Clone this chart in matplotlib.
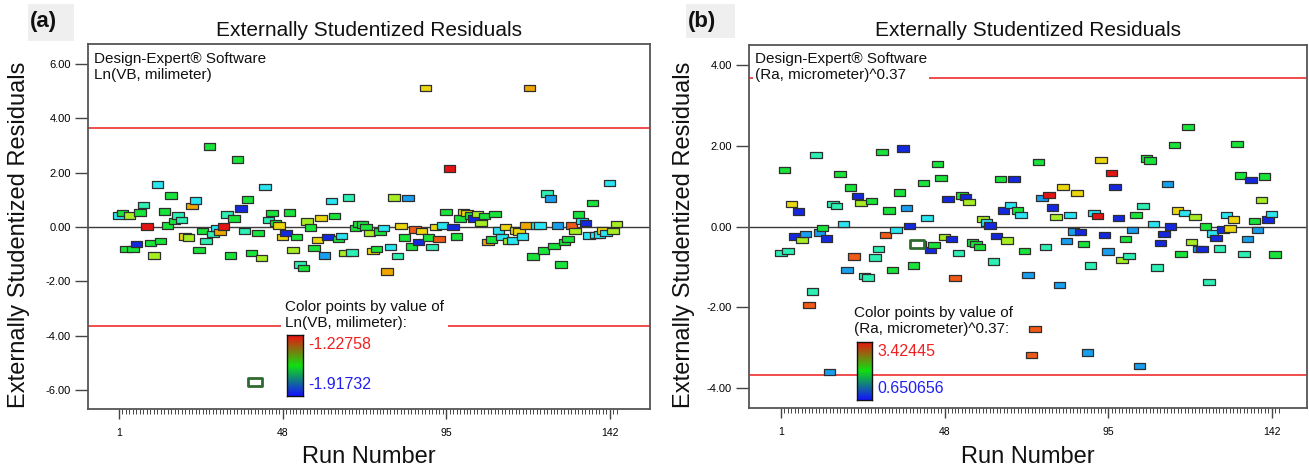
import numpy as np
import matplotlib
matplotlib.use('Agg')
import matplotlib.pyplot as plt
from matplotlib.colors import LinearSegmentedColormap
from matplotlib.patches import Rectangle
from matplotlib.path import Path

plt.rcParams['font.family'] = ['Liberation Sans', 'DejaVu Sans']

W, H = 1309, 469

# ---------------- data ----------------
# colour classes of the points, low response -> high response
colour_levels = {'B': 0.0, 'BC': 0.15, 'C': 0.3, 'T': 0.4, 'G': 0.5, 'YG': 0.62,
                 'Y': 0.72, 'O': 0.82, 'RO': 0.91, 'R': 1.0, 'W': 0.5}

# Panel (a): Ln(VB, milimeter)
resid_a = [0.43, 0.52, -0.80, 0.43, -0.80, -0.62, 0.53, 0.81, 0.02, -0.58,
           -1.05, 1.56, -0.52, 0.57, 0.06, 1.16, 0.22, 0.42, 0.27, -0.35,
           -0.38, 0.77, 0.98, -0.84, -0.14, -0.51, 2.96, -0.26, -0.04, -0.19,
           0.02, 0.46, -1.05, 0.31, 2.49, 0.68, -0.14, 1.02, -0.96, -5.72,
           -0.21, -1.14, 1.48, 0.25, 0.52, 0.15, 0.06, -0.37, -0.22, 0.53,
           -0.84, -0.37, -1.38, -1.51, 0.21, -0.02, -0.77, -0.47, 0.33, -1.05,
           -0.37, 0.96, 0.40, -0.44, -0.32, -0.96, 1.09, -0.93, -0.04, 0.12,
           0.09, 0.00, -0.21, -0.89, -0.80, -0.16, -0.04, -1.64, -0.74, 1.09,
           -1.06, 0.04, -0.38, 1.06, -0.72, -0.09, -0.54, -0.14, 5.12, -0.38,
           -0.73, 0.00, -0.43, 0.05, 0.56, 2.16, 0.00, -0.35, 0.31, 0.56,
           0.52, 0.43, 0.31, 0.49, 0.15, 0.40, -0.56, -0.46, 0.49, -0.12,
           -0.37, 0.00, -0.52, -0.49, -0.12, -0.16, -0.35, 0.06, 5.12, -1.09,
           0.05, 0.05, -0.86, 1.23, 1.05, -0.69, 0.05, -1.38, -0.56, -0.43,
           0.05, -0.15, 0.46, 0.22, 0.15, -0.31, 0.89, -0.30, -0.27, -0.12,
           -0.22, 1.63, -0.15, 0.12]
colour_a = ['C', 'G', 'G', 'YG', 'G', 'B', 'G', 'T', 'R', 'G',
            'YG', 'C', 'G', 'G', 'G', 'G', 'G', 'T', 'T', 'Y',
            'YG', 'O', 'C', 'G', 'G', 'T', 'G', 'T', 'C', 'O',
            'R', 'T', 'G', 'G', 'G', 'B', 'T', 'G', 'G', 'W',
            'G', 'YG', 'C', 'T', 'G', 'G', 'Y', 'Y', 'B', 'G',
            'YG', 'G', 'T', 'G', 'YG', 'G', 'G', 'Y', 'Y', 'BC',
            'B', 'C', 'G', 'G', 'C', 'YG', 'T', 'T', 'G', 'G',
            'G', 'G', 'YG', 'Y', 'G', 'G', 'C', 'O', 'C', 'YG',
            'T', 'Y', 'G', 'BC', 'G', 'RO', 'B', 'Y', 'Y', 'G',
            'T', 'Y', 'RO', 'C', 'G', 'R', 'B', 'G', 'G', 'Y',
            'Y', 'G', 'B', 'YG', 'YG', 'G', 'O', 'G', 'G', 'C',
            'C', 'Y', 'YG', 'C', 'Y', 'Y', 'C', 'O', 'O', 'G',
            'C', 'C', 'G', 'T', 'BC', 'G', 'BC', 'G', 'G', 'G',
            'RO', 'YG', 'G', 'C', 'B', 'C', 'G', 'C', 'C', 'Y',
            'C', 'C', 'YG', 'YG']
limit_a = 3.66
resp_a = ('-1.22758', '-1.91732')

# Panel (b): (Ra, micrometer)^0.37
resid_b = [-0.66, 1.40, -0.60, 0.56, -0.25, 0.37, -0.33, -0.18, -1.94, -1.61,
           1.77, -0.15, -0.04, -0.30, -3.60, 0.55, 0.50, 1.30, 0.06, -1.07,
           0.96, -0.74, 0.76, 0.58, -1.22, -1.26, 0.63, -0.77, -0.55, 1.85,
           -0.21, 0.40, -1.07, -0.09, 0.84, 1.93, 0.46, 0.01, -0.96, -0.43,
           -0.44, 1.07, 0.21, -0.58, -0.46, 1.55, 1.20, -0.26, 0.68, -0.31,
           -1.28, -0.66, 0.77, 0.73, 0.60, -0.40, -0.43, -0.51, 0.19, 0.10,
           0.02, -0.87, -0.23, 1.17, 0.40, -0.35, 0.53, 1.17, 0.40, 0.29,
           -0.60, -1.20, -3.18, -2.54, 1.60, 0.70, -0.50, 0.78, 0.47, 0.24,
           -1.45, 0.98, -0.36, 0.28, -0.12, 0.83, -0.14, -0.43, -3.12, -0.96,
           0.33, 0.26, 1.64, -0.21, -0.62, 1.32, 0.97, 0.21, -0.83, -0.31,
           -0.73, -0.08, 0.28, -3.45, 0.51, 1.68, 1.63, 0.06, -1.01, -0.41,
           -0.18, 1.05, 0.00, 2.02, 0.40, -0.68, 0.33, 2.46, -0.38, 0.24,
           -0.56, -0.56, 0.00, -1.38, -0.17, -0.29, -0.54, -0.07, 0.28, -0.05,
           0.17, 2.04, 1.26, -0.68, -0.31, 1.15, 0.14, -0.09, 0.65, 1.24,
           0.17, 0.31, -0.69]
colour_b = ['T', 'G', 'T', 'Y', 'B', 'B', 'YG', 'BC', 'RO', 'T',
            'T', 'BC', 'G', 'B', 'BC', 'T', 'T', 'G', 'C', 'BC',
            'G', 'RO', 'B', 'YG', 'T', 'T', 'G', 'T', 'T', 'G',
            'RO', 'G', 'G', 'C', 'G', 'B', 'BC', 'B', 'G', 'W',
            'G', 'G', 'C', 'B', 'G', 'G', 'G', 'YG', 'B', 'B',
            'RO', 'T', 'G', 'B', 'YG', 'G', 'G', 'G', 'YG', 'C',
            'B', 'T', 'B', 'G', 'B', 'YG', 'C', 'B', 'G', 'C',
            'G', 'BC', 'RO', 'RO', 'G', 'BC', 'T', 'R', 'B', 'YG',
            'BC', 'Y', 'BC', 'C', 'BC', 'Y', 'B', 'G', 'BC', 'T',
            'C', 'R', 'Y', 'B', 'BC', 'R', 'B', 'B', 'YG', 'G',
            'T', 'BC', 'G', 'BC', 'T', 'G', 'G', 'C', 'T', 'B',
            'B', 'BC', 'B', 'G', 'Y', 'G', 'C', 'G', 'YG', 'YG',
            'BC', 'B', 'G', 'T', 'C', 'B', 'T', 'B', 'C', 'Y',
            'Y', 'G', 'G', 'T', 'BC', 'B', 'G', 'BC', 'YG', 'G',
            'B', 'C', 'G']
limit_b = 3.67
resp_b = ('3.42445', '0.650656')

run_ticks = [1, 48, 95, 142]

# ---------------- styling ----------------
point_cmap = LinearSegmentedColormap.from_list('dx', [
    (0.0, '#1428e0'), (0.15, '#18a0f0'), (0.3, '#2ae6f2'), (0.4, '#2cf0b4'),
    (0.5, '#16e43a'), (0.62, '#a6ee22'), (0.72, '#ecd80e'), (0.82, '#f0a600'),
    (0.91, '#f05a16'), (1.0, '#e41414')])
bar_cmap = LinearSegmentedColormap.from_list('bar', ['#1414ff', '#10e010', '#f01010'])

rect_marker = Path([(-1, -0.56), (1, -0.56), (1, 0.56), (-1, 0.56), (-1, -0.56)],
                   [Path.MOVETO, Path.LINETO, Path.LINETO, Path.LINETO, Path.CLOSEPOLY])


def px_rect(l, t, r, b):
    return [l / W, 1 - b / H, (r - l) / W, (b - t) / H]


def ftext(fig, x, y, s, **kw):
    return fig.text(x / W, 1 - y / H, s, **kw)


fig = plt.figure(figsize=(W / 100, H / 100), dpi=100)
fig.patch.set_facecolor('white')

panels = [
    dict(resid=resid_a, colour=colour_a, limit=limit_a, resp=resp_a,
         box=(88, 44, 650, 409), ylim=(-6.70, 6.74), yt=[-6, -4, -2, 0, 2, 4, 6],
         x1=119, name='Ln(VB, milimeter)', label='(a)', lab_box=(28, 4, 74, 41),
         legend_xy=(285, 300), bar=(287, 335, 303, 396), yl_x=19),
    dict(resid=resid_b, colour=colour_b, limit=limit_b, resp=resp_b,
         box=(749, 45, 1307, 408), ylim=(-4.49, 4.49), yt=[-4, -2, 0, 2, 4],
         x1=781, name='(Ra, micrometer)^0.37', label='(b)', lab_box=(686, 4, 735, 38),
         legend_xy=(854, 306), bar=(857, 342, 872, 400), yl_x=684),
]

for p in panels:
    l, t, r, b = p['box']
    ax = fig.add_axes(px_rect(l, t, r, b))
    ppr = 3.48
    ax.set_xlim(1 - (p['x1'] - l) / ppr, 1 + (r - p['x1']) / ppr)
    ax.set_ylim(*p['ylim'])

    runs = np.arange(1, len(p['resid']) + 1)
    vals = np.array(p['resid'])
    codes = np.array(p['colour'])
    lev = np.array([colour_levels[c] for c in codes])
    solid = codes != 'W'

    ax.axhline(0, color='#3a3a3a', lw=1.0, zorder=1)
    ax.axhline(p['limit'], color='#f04c4c', lw=1.4, zorder=1)
    ax.axhline(-p['limit'], color='#f04c4c', lw=1.4, zorder=1)

    ax.scatter(runs[solid], vals[solid], c=lev[solid], cmap=point_cmap, vmin=0, vmax=1,
               marker=rect_marker, s=68, edgecolors='#2e2e2e', linewidths=0.9, zorder=3)
    ax.scatter(runs[~solid], vals[~solid], c='white', marker=rect_marker, s=110,
               edgecolors='#2f6a2f', linewidths=2.0, zorder=3)

    for sp in ax.spines.values():
        sp.set_color('#555555')
        sp.set_linewidth(1.3)

    ax.set_yticks(p['yt'])
    ax.set_yticklabels(['%.2f' % v for v in p['yt']], fontsize=8)
    ax.tick_params(axis='y', direction='out', length=9.5, width=1.0, color='#444444', pad=3)
    ax.set_xticks(run_ticks)
    ax.set_xticklabels([str(v) for v in run_ticks], fontsize=7.5)
    ax.set_xticks(np.arange(1, 145), minor=True)
    ax.tick_params(axis='x', which='major', direction='out', length=7.5, width=1.0,
                   color='#444444', pad=6)
    ax.tick_params(axis='x', which='minor', direction='out', length=3.5, width=0.7,
                   color='#444444')

    cx = (l + r) / 2
    ftext(fig, cx, 31, 'Externally Studentized Residuals', fontsize=15,
          ha='center', va='center', color='#111111')
    ftext(fig, cx, 457, 'Run Number', fontsize=17, ha='center', va='center', color='#111111')
    ftext(fig, p['yl_x'], (t + b) / 2 + 8, 'Externally Studentized Residuals', fontsize=17,
          rotation=90, ha='center', va='center', color='#111111')

    # panel label with grey tile
    lx0, ly0, lx1, ly1 = p['lab_box']
    fig.patches.append(Rectangle((lx0 / W, 1 - ly1 / H), (lx1 - lx0) / W, (ly1 - ly0) / H,
                                 transform=fig.transFigure, facecolor='#efefef',
                                 edgecolor='none', zorder=0))
    ftext(fig, lx0 + 2, 22, p['label'], fontsize=16, fontweight='bold',
          ha='left', va='center', color='#111111')

    # software annotation (white background interrupts the red line)
    ftext(fig, l + 6, 52, 'Design-Expert\u00ae Software\n' + p['name'], fontsize=11,
          ha='left', va='top', linespacing=1.2, color='#111111', zorder=5,
          bbox=dict(facecolor='white', edgecolor='none', pad=1.5))

    # colour legend
    gx, gy = p['legend_xy']
    ftext(fig, gx, gy, 'Color points by value of\n' + p['name'] + ':', fontsize=11,
          ha='left', va='top', linespacing=1.2, color='#111111', zorder=5,
          bbox=dict(facecolor='white', edgecolor='none', pad=3))
    bx0, by0, bx1, by1 = p['bar']
    cax = fig.add_axes(px_rect(bx0, by0, bx1, by1))
    cax.imshow(np.linspace(1, 0, 100)[:, None], aspect='auto', cmap=bar_cmap,
               extent=(0, 1, 0, 1))
    cax.set_xticks([])
    cax.set_yticks([])
    for sp in cax.spines.values():
        sp.set_color('#111111')
        sp.set_linewidth(1.0)
    ftext(fig, bx1 + 5, by0 + 9, p['resp'][0], fontsize=11.5, color='#f02020',
          ha='left', va='center')
    ftext(fig, bx1 + 5, by1 - 12, p['resp'][1], fontsize=11.5, color='#2020f0',
          ha='left', va='center')

fig.savefig('out.png', dpi=100, facecolor='white')
